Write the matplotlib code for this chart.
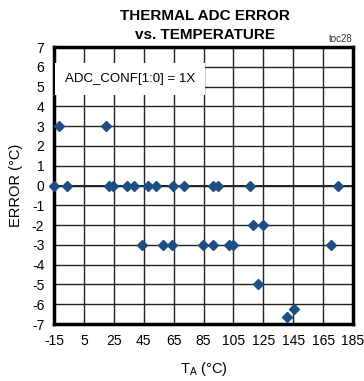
import matplotlib
matplotlib.use("Agg")
import matplotlib.pyplot as plt

# data
temp_0 = [-15, -6.3, 22, 24.5, 33.6, 38.5, 48, 53.5, 64.8, 72, 91.6, 95, 116, 175]
temp_p3 = [-12, 19.8]
temp_m3 = [43.6, 58, 63.7, 84.4, 91.6, 102.3, 105, 170.3]
temp_m2 = [118.3, 125]
temp_m5 = [121.2]
temp_low = [141.1, 145.7]
err_low = [-6.65, -6.25]

temps = temp_0 + temp_p3 + temp_m3 + temp_m2 + temp_m5 + temp_low
errors = ([0]*len(temp_0) + [3]*len(temp_p3) + [-3]*len(temp_m3)
          + [-2]*len(temp_m2) + [-5]*len(temp_m5) + err_low)

xticks = list(range(-15, 186, 20))
yticks = list(range(-7, 8))

plt.rcParams['font.family'] = ['Liberation Sans', 'DejaVu Sans']
plt.rcParams['axes.unicode_minus'] = False

fig = plt.figure(figsize=(3.64, 3.81), dpi=100)
ax = fig.add_axes([0.1484, 0.1496, 0.8214, 0.727])

ax.plot(temps, errors, 'D', color='#1f4e85', markersize=5.5, clip_on=False, zorder=5)

ax.set_xlim(-15, 185)
ax.set_ylim(-7, 7)
ax.set_xticks(xticks)
ax.set_yticks(yticks)
ax.tick_params(length=0, labelsize=10, pad=7)
ax.grid(True, color='#222222', linewidth=1.0)
ax.axhline(0, color='black', linewidth=1.2, zorder=1)
for s in ax.spines.values():
	s.set_linewidth(2.5)

ax.set_xlabel('T$_\\mathregular{A}$ (°C)', fontsize=10.5, labelpad=9)
ax.set_ylabel('ERROR (°C)', fontsize=10.5, labelpad=6)

ax.text(0.255, 0.885, 'ADC_CONF[1:0] = 1X', transform=ax.transAxes, fontsize=9.5,
	ha='center', va='center', zorder=6,
	bbox=dict(facecolor='white', edgecolor='none', pad=7))

fig.text(0.563, 0.958, 'THERMAL ADC ERROR', ha='center', va='center', fontsize=11, fontweight='bold')
fig.text(0.563, 0.908, 'vs. TEMPERATURE', ha='center', va='center', fontsize=11, fontweight='bold')
fig.text(0.968, 0.898, 'toc28', ha='right', va='center', fontsize=7, color='#333333')

fig.savefig('out.png', dpi=100)
